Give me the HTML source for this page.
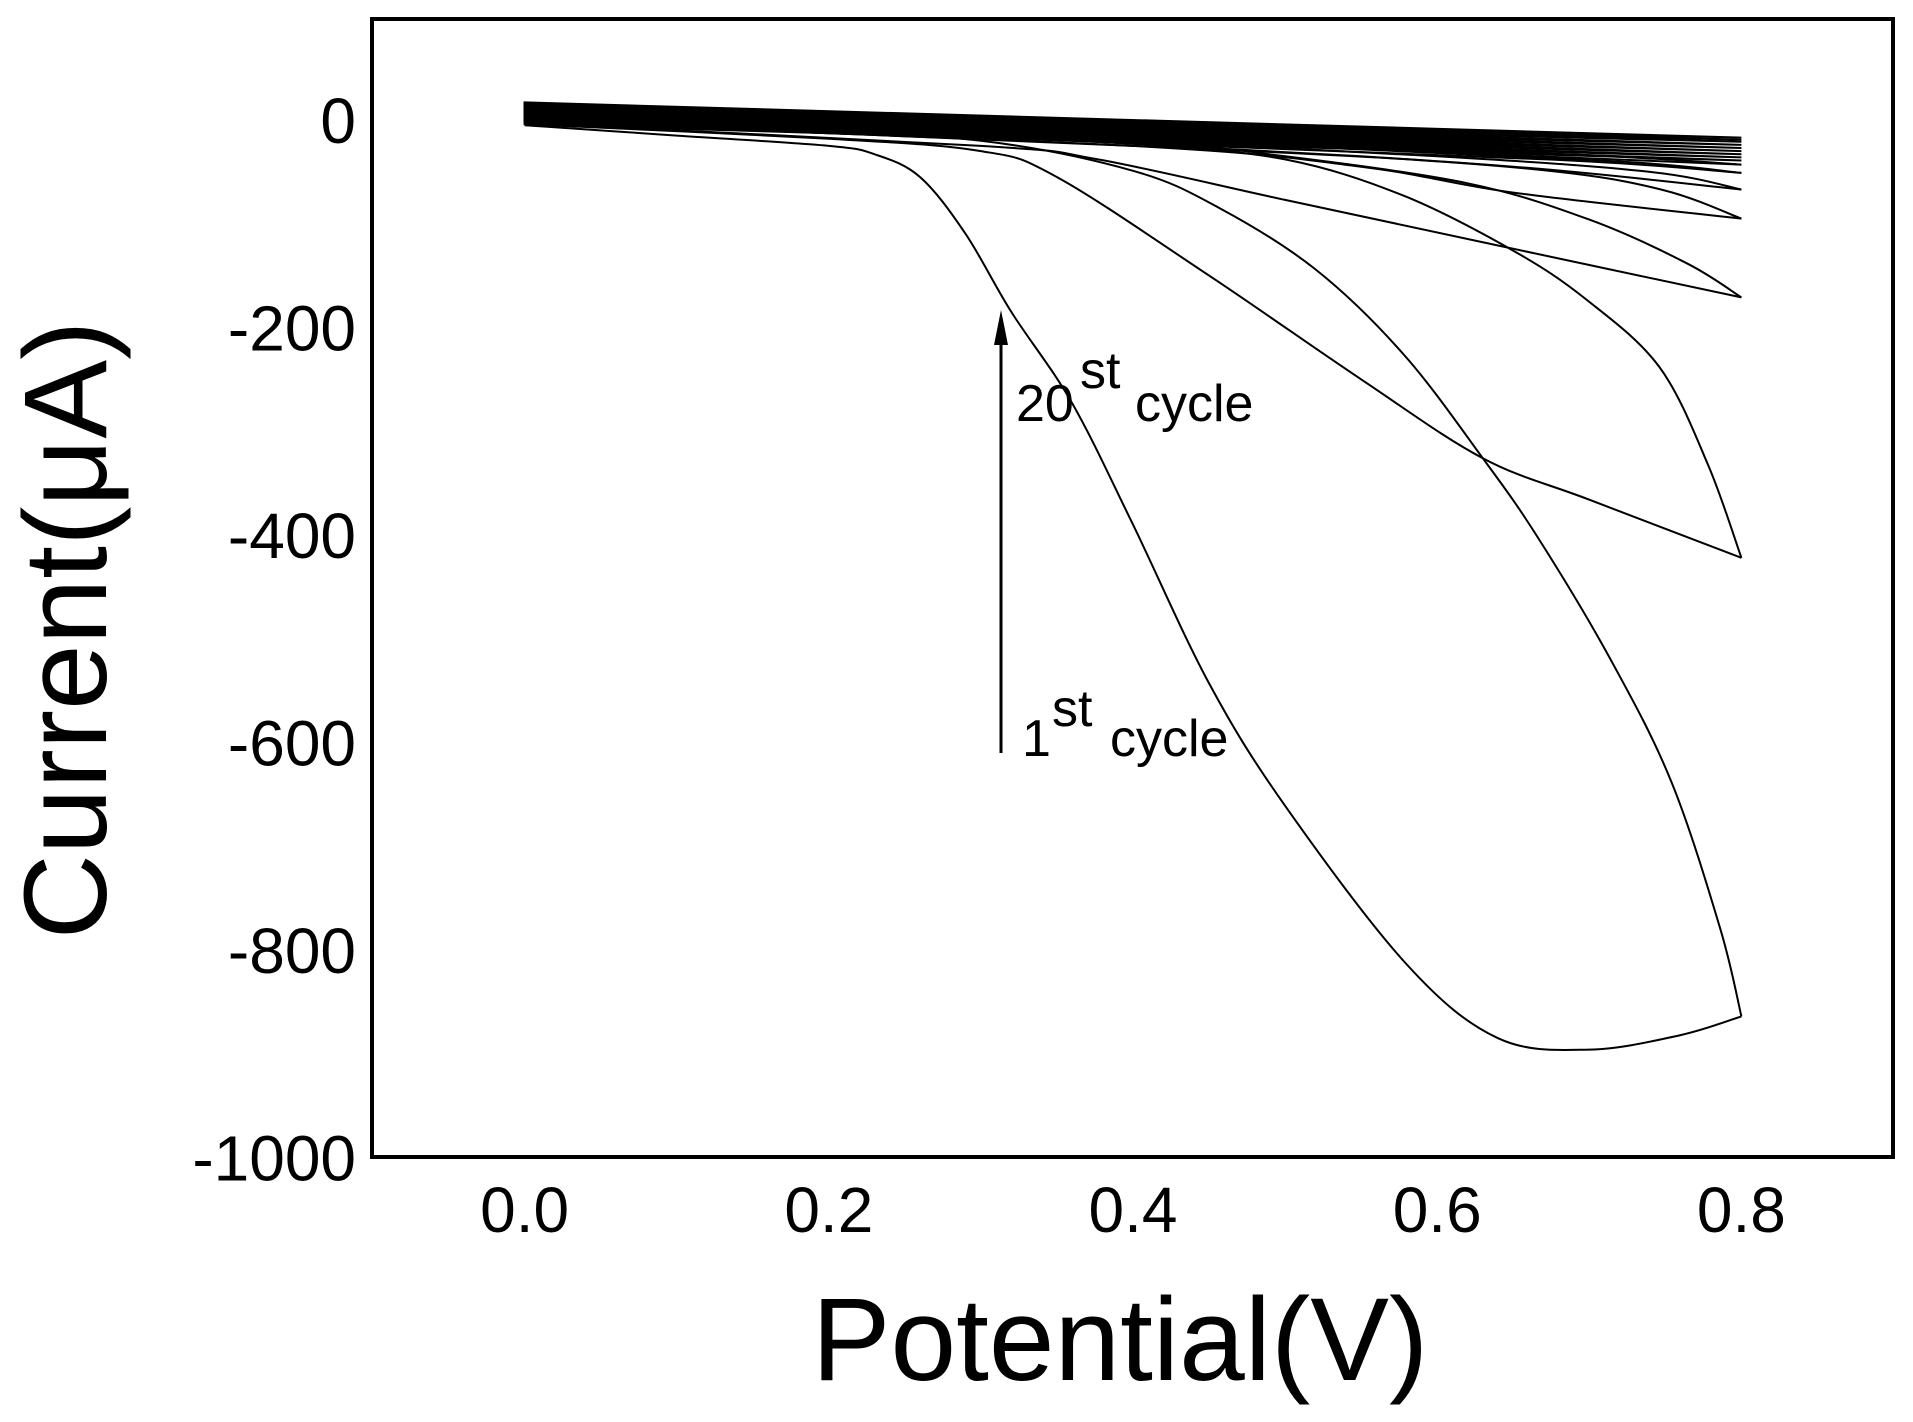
<!DOCTYPE html>
<html><head><meta charset="utf-8">
<style>
html,body{margin:0;padding:0;background:#fff;}
svg{display:block;font-family:"Liberation Sans",Arial,sans-serif;}
</style></head>
<body>
<svg id="chart" width="1913" height="1422" viewBox="0 0 1913 1422" xmlns="http://www.w3.org/2000/svg">
<g id="curves"></g>
<rect x="372" y="19" width="1521" height="1138" fill="none" stroke="#000" stroke-width="4"/>
<g id="xticks"></g>
<g id="yticks"></g>
<text x="1120" y="1380" font-size="118" text-anchor="middle">Potential(V)</text>
<text x="0" y="0" font-size="118" text-anchor="middle" transform="translate(106 630) rotate(-90)">Current(μA)</text>
<line x1="1001" y1="753" x2="1001" y2="340" stroke="#000" stroke-width="3"/>
<polygon points="1001,310 994,345 1008,345" fill="#000"/>
<g font-size="52">
<text x="1016" y="421">20</text><text x="1080" y="388">st</text><text x="1135" y="421">cycle</text>
</g>
<g font-size="52">
<text x="1022" y="756">1</text><text x="1052" y="726">st</text><text x="1110" y="756">cycle</text>
</g>
</svg>
<script>
const xTicks=[0.0,0.2,0.4,0.6,0.8];
const xTickLabels=["0.0","0.2","0.4","0.6","0.8"];
const yTicks=[0,-200,-400,-600,-800,-1000];
const yTickLabels=["0","-200","-400","-600","-800","-1000"];
const cycle1Fwd=[[0,-5],[0.1,-15],[0.2,-25],[0.23,-33],[0.26,-55],[0.29,-110],[0.32,-185],[0.36,-273],[0.4,-390],[0.45,-543],[0.5,-661],[0.58,-814],[0.64,-885],[0.7,-896],[0.76,-882],[0.8,-864]];
const cycle1Rev=[[0.8,-864],[0.786,-779],[0.754,-638],[0.714,-520],[0.666,-402],[0.63,-326],[0.578,-226],[0.52,-144],[0.457,-85],[0.4,-49],[0.3,-20],[0.15,-6],[0,5]];
const cycle2Fwd=[[0,-4],[0.2,-18],[0.3,-30],[0.35,-55],[0.45,-150],[0.55,-250],[0.63,-326],[0.7,-366],[0.8,-422]];
const cycle2Rev=[[0.8,-422],[0.778,-332],[0.746,-238],[0.698,-173],[0.65,-126],[0.578,-73],[0.5,-38],[0.4,-22],[0.3,-12],[0,6]];
const cycle3Fwd=[[0,-3],[0.3,-25],[0.377,-38],[0.5,-77],[0.64,-121],[0.8,-171]];
const cycle3Rev=[[0.8,-171],[0.764,-138],[0.7,-96],[0.62,-61],[0.5,-35],[0.4,-22],[0,7]];
const cycle4Fwd=[[0,-2],[0.4,-25],[0.55,-45],[0.65,-70],[0.8,-95]];
const cycle4Rev=[[0.8,-95],[0.75,-68],[0.68,-50],[0.55,-35],[0.3,-15],[0,8]];
const cycle5Fwd=[[0,-1],[0.45,-28],[0.65,-45],[0.8,-67]];
const cycle5Rev=[[0.8,-67],[0.74,-50],[0.6,-35],[0.3,-12],[0,9]];
const cycle6Fwd=[[0,0],[0.5,-28],[0.7,-40],[0.8,-51]];
const cycle6Rev=[[0.8,-51],[0.72,-40],[0.5,-25],[0,10]];
const cycle7Fwd=[[0,1],[0.5,-25],[0.8,-43]];
const cycle7Rev=[[0.8,-43],[0.7,-34],[0.4,-15],[0,11]];
const bandStart=[2,4,6,8,10,12,14,16,17];
const bandEnd=[-39,-36,-33,-30,-27,-24,-21,-19,-17];
const X=v=>524.6+(v)*1521;
const Y=v=>120-(v)*1.0375;
const NS="http://www.w3.org/2000/svg";
const g=document.getElementById('curves');
function draw(pts,name){
  const p=document.createElementNS(NS,'path');
  let d='M'+X(pts[0][0]).toFixed(1)+' '+Y(pts[0][1]).toFixed(1);
  for(let i=1;i<pts.length;i++){
    const p0=pts[i-1],p1=pts[i];
    const pm=pts[i-2]||p0,pn=pts[i+1]||p1;
    const c1x=X(p0[0])+(X(p1[0])-X(pm[0]))/6,c1y=Y(p0[1])+(Y(p1[1])-Y(pm[1]))/6;
    const c2x=X(p1[0])-(X(pn[0])-X(p0[0]))/6,c2y=Y(p1[1])-(Y(pn[1])-Y(p0[1]))/6;
    d+=' C'+c1x.toFixed(1)+' '+c1y.toFixed(1)+' '+c2x.toFixed(1)+' '+c2y.toFixed(1)+' '+X(p1[0]).toFixed(1)+' '+Y(p1[1]).toFixed(1);
  }
  p.setAttribute('d',d);
  p.setAttribute('fill','none');p.setAttribute('stroke','#000');p.setAttribute('stroke-width','2');
  
  
  g.appendChild(p);
}
[[cycle1Fwd,cycle1Rev],[cycle2Fwd,cycle2Rev],[cycle3Fwd,cycle3Rev],[cycle4Fwd,cycle4Rev],[cycle5Fwd,cycle5Rev],[cycle6Fwd,cycle6Rev],[cycle7Fwd,cycle7Rev]].forEach((c,i)=>{
  draw(c[0],'cycle-'+(i+1)+'-forward');
  draw(c[1],'cycle-'+(i+1)+'-reverse');
});
for(let i=0;i<bandStart.length;i++){
  const l=document.createElementNS(NS,'path');
  l.setAttribute('d','M'+X(0)+' '+Y(bandStart[i])+' L'+X(0.8)+' '+Y(bandEnd[i])+' L'+X(0)+' '+Y(bandStart[i]-6)+'Z');
  l.setAttribute('fill','#000');l.setAttribute('stroke','#000');l.setAttribute('stroke-width','2');
  
  
  g.appendChild(l);
}
const xt=document.getElementById('xticks');
xTicks.forEach((v,i)=>{
  const t=document.createElementNS(NS,'text');
  t.setAttribute('x',X(v));t.setAttribute('y',1232);
  t.setAttribute('font-size','64');t.setAttribute('text-anchor','middle');
  t.textContent=xTickLabels[i];
  
  
  xt.appendChild(t);
});
const yt=document.getElementById('yticks');
yTicks.forEach((v,i)=>{
  const t=document.createElementNS(NS,'text');
  t.setAttribute('x',356);t.setAttribute('y',Y(v)+23);
  t.setAttribute('font-size','64');t.setAttribute('text-anchor','end');
  t.textContent=yTickLabels[i];
  
  
  yt.appendChild(t);
});
</script>
</body></html>
